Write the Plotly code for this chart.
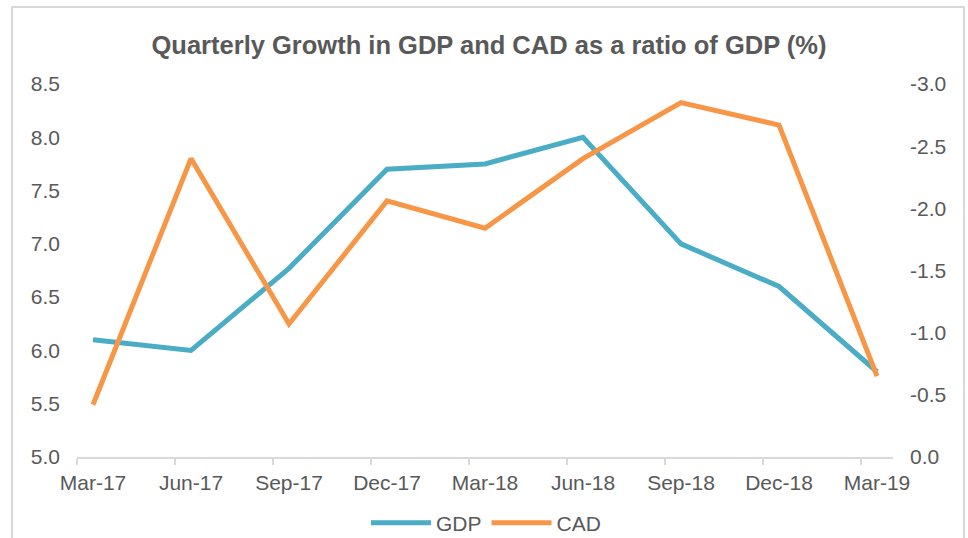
import plotly.graph_objects as go

quarters = ["Mar-17", "Jun-17", "Sep-17", "Dec-17", "Mar-18", "Jun-18", "Sep-18", "Dec-18", "Mar-19"]
gdp = [6.1, 6.0, 6.77, 7.7, 7.75, 8.0, 7.0, 6.6, 5.8]
cad = [-0.42, -2.4, -1.07, -2.06, -1.84, -2.4, -2.85, -2.67, -0.65]
left_ticks = [5.0, 5.5, 6.0, 6.5, 7.0, 7.5, 8.0, 8.5]
right_ticks = [0.0, -0.5, -1.0, -1.5, -2.0, -2.5, -3.0]

idx = list(range(len(quarters)))
FONT = "Liberation Sans, Arial, sans-serif"
GRAY = "#595959"
AXIS = "#d9d9d9"
off = 0.163

fig = go.Figure()
fig.add_trace(go.Scatter(x=idx, y=gdp, name="GDP", mode="lines",
                         line=dict(color="#4BACC6", width=5), yaxis="y"))
fig.add_trace(go.Scatter(x=idx, y=cad, name="CAD", mode="lines",
                         line=dict(color="#F79646", width=5), yaxis="y2"))

W, H = 968, 538
ml, mr, mt, mb = 77, 75, 84, 81
pw, ph = W - ml - mr, H - mt - mb

def px_x(x):
    return (x - ml) / pw

def px_y(y):
    return (H - mb - y) / ph

fig.update_layout(
    template="none",
    width=W, height=H,
    margin=dict(l=ml, r=mr, t=mt, b=mb),
    paper_bgcolor="white", plot_bgcolor="white",
    font=dict(family=FONT, color=GRAY, size=21),
    title=dict(text="<b>Quarterly Growth in GDP and CAD as a ratio of GDP (%)</b>",
               x=489 / W, xanchor="center", y=1 - 45 / H, yanchor="middle",
               xref="container", yref="container",
               font=dict(family=FONT, size=25.5, color=GRAY)),
    xaxis=dict(range=[-off, len(quarters) - 1 + off], tickmode="array",
               tickvals=[i - off for i in idx], ticktext=quarters, automargin=False,
               ticklabelshift=16, ticks="outside", ticklen=6, tickwidth=2,
               tickcolor=AXIS, showline=True, linecolor=AXIS, linewidth=2,
               showgrid=False, zeroline=False, tickfont=dict(size=21, color=GRAY)),
    yaxis=dict(range=[5.0, 8.5], tickmode="array", tickvals=left_ticks, automargin=False,
               ticktext=[f"{v:.1f}" for v in left_ticks], showgrid=False,
               zeroline=False, showline=False, ticks="", ticklabelstandoff=16,
               tickfont=dict(size=21, color=GRAY)),
    yaxis2=dict(range=[0.0, -3.0], overlaying="y", side="right", tickmode="array",
                tickvals=right_ticks, ticktext=[f"{v:.1f}" for v in right_ticks],
                showgrid=False, zeroline=False, showline=False, ticks="", automargin=False,
                ticklabelstandoff=16, tickfont=dict(size=21, color=GRAY)),
    legend=dict(orientation="h", x=486 / W, xanchor="center", xref="container",
                y=1 - 523 / H, yanchor="middle", yref="container",
                font=dict(size=21, color=GRAY), itemwidth=60,
                bgcolor="rgba(0,0,0,0)"),
    showlegend=True,
    shapes=[dict(type="rect", xref="paper", yref="paper",
                 x0=px_x(12), x1=px_x(964), y0=px_y(560), y1=px_y(7),
                 line=dict(color=AXIS, width=2), fillcolor="rgba(0,0,0,0)",
                 layer="below")],
)

fig.write_html("out.html")
